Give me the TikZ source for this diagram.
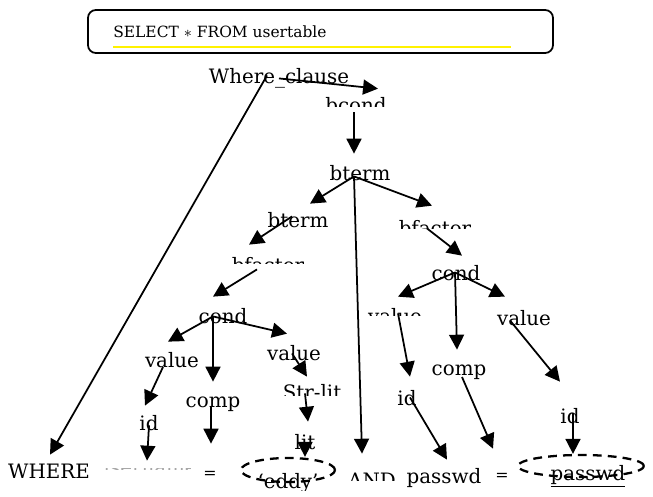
\documentclass[tikz,border=0pt]{standalone}
\usepackage{fontspec}
\setmainfont{DejaVu Serif}
\usetikzlibrary{arrows.meta, calc, shapes.geometric}

\tikzset{
  lbl/.style={anchor=base, inner sep=0pt, outer sep=0pt, text height=0.76em, text depth=0.24em, font=\fontsize{11.3}{13}\selectfont},
  eqs/.style={lbl, font=\fontsize{9}{11}\selectfont},
  arr/.style={-{Triangle[length=8.5pt,width=8.5pt]}, line width=1pt},
  ring/.style={ellipse, draw, line width=1.3pt, dash pattern=on 5pt off 3.5pt, inner sep=0pt},
}

\begin{document}
\begin{tikzpicture}[x=0.02cm, y=-0.02cm]
\useasboundingbox (0,0) rectangle (653,497);

% query box
\draw[line width=1pt, rounded corners=4.5pt] (88,10) rectangle (553,53);
\node[anchor=base west, inner sep=0pt, font=\fontsize{8.8}{10}\selectfont] (query) at (113,37) {SELECT $\ast$ FROM usertable};
\draw[yellow, line width=0.8pt] (113,47) -- (511,47);

% tree labels
\node[lbl] (wc) at (279,83) {Where\_clause};
\begin{scope}
  \clip (320,90) rectangle (395,106);
  \node[lbl] (bcond) at (356,112) {bcond};
\end{scope}
\node[lbl] (bterm) at (360,180) {bterm};
\node[lbl] (btermL) at (298,227) {bterm};
\begin{scope}
  \clip (390,212) rectangle (480,228);
  \node[lbl] (bfacR) at (435,235) {bfactor};
\end{scope}
\begin{scope}
  \clip (225,250) rectangle (312,263);
  \node[lbl] (bfacL) at (268,272) {bfactor};
\end{scope}
\node[lbl] (condL) at (223,323) {cond};
\node[lbl] (condR) at (456,280) {cond};
\node[lbl] (valL) at (172,367) {value};
\node[lbl] (valM) at (294,360) {value};
\begin{scope}
  \clip (360,300) rectangle (430,315);
  \node[lbl] (valC) at (395,323) {value};
\end{scope}
\node[lbl] (valR) at (524,325) {value};
\node[lbl] (idL) at (149,430) {id};
\node[lbl] (compL) at (213,407) {comp};
\begin{scope}
  \clip (275,378) rectangle (350,395);
  \node[lbl] (strlit) at (312,399) {Str-lit};
\end{scope}
\node[lbl] (lit) at (305,449) {lit};
\node[lbl] (compR) at (459,375) {comp};
\node[lbl] (idM) at (407,405) {id};
\node[lbl] (idR) at (570,423) {id};

% bottom row
\node[lbl] (where) at (49,478) {WHERE};
\begin{scope}
  \clip (105,468.5) rectangle (190,469.6);
  \node[lbl, gray!70] (user) at (147,474) {username};
\end{scope}
\node[eqs] (eqL) at (210,478) {=};
\node[ring, minimum width=1.88cm, minimum height=0.48cm] (eddyring) at (288,470) {};
\begin{scope}
  \clip (240,460) rectangle (340,490);
  \node[lbl] (eddy) at (288,488) {‘eddy’};
\end{scope}
\begin{scope}
  \clip (340,465) rectangle (405,480);
  \node[lbl] (and) at (372,487) {AND};
\end{scope}
\node[lbl] (passwd) at (444,483) {passwd};
\node[eqs] (eqR) at (502,480) {=};
\node[ring, minimum width=2.52cm, minimum height=0.44cm] (pwring) at (581,466) {};
\node[lbl] (pw) at (588,480) {\underline{passwd}};

% branch points
\coordinate (bt) at ($(bterm.center)+(-6,1)$);
\coordinate (cl) at ($(condL.center)+(-10,-2)$);
\coordinate (cr) at ($(condR.center)+(-1,-3)$);

% connectors
\draw[arr] (wc.center) -- ($(bcond.north)+(22,-10)$);
\draw[arr] ($(wc.center)+(-12,-3)$) -- ($(where.north)+(1,-10)$);
\draw[arr] ($(bcond.base)+(-2,0)$) -- ($(bterm.north)+(-6,-13)$);
\draw[arr] (bt) -- ($(btermL.north)+(12,-10)$);
\draw[arr] (bt) -- ($(bfacR.north)+(-3,-16)$);
\draw[arr] (bt) -- ($(and.north)+(-10,-20)$);
\draw[arr] ($(btermL.center)+(-6,-6)$) -- ($(bfacL.north)+(-19,-14)$);
\draw[arr] ($(bfacR.center)+(-8,-2)$) -- ($(condR.north)+(6,-11)$);
\draw[arr] ($(bfacL.center)+(-11,2)$) -- ($(condL.north)+(-10,-13)$);
\draw[arr] (cl) -- ($(valL.north)+(-4,-12)$);
\draw[arr] (cl) -- ($(compL.north)+(0,-12)$);
\draw[arr] (cl) -- ($(valM.north)+(-7,-13)$);
\draw[arr] ($(valL.base)+(-9,0)$) -- ($(idL.north)+(-4,-11)$);
\draw[arr] ($(valM.center)+(-2,-2)$) -- ($(strlit.north)+(-5,-9)$);
\draw[arr] (idL.center) -- (user.north);
\draw[arr] ($(compL.base)+(-2,0)$) -- ($(eqL.north)+(1,-21)$);
\draw[arr] ($(strlit.center)+(-7,-1)$) -- ($(lit.north)+(3,-14)$);
\draw[arr] (lit.center) -- (lit.center |- eddyring.north);
\draw[arr] (cr) -- ($(valC.north)+(3,-13)$);
\draw[arr] (cr) -- ($(compR.north)+(-2,-12)$);
\draw[arr] (cr) -- ($(valR.north)+(-19,-15)$);
\draw[arr] ($(valC.center)+(3,-5)$) -- ($(idM.north)+(3,-15)$);
\draw[arr] ($(valR.center)+(-14,0)$) -- ($(idR.north)+(-10,-28)$);
\draw[arr] ($(idM.center)+(3,-3)$) -- ($(passwd.north)+(3,-10)$);
\draw[arr] ($(compR.base)+(3,2)$) -- ($(eqR.north)+(-9,-18)$);
\draw[arr] ($(idR.center)+(3,-5)$) -- ($(pwring.north)+(-8,0)$);
\end{tikzpicture}
\end{document}
